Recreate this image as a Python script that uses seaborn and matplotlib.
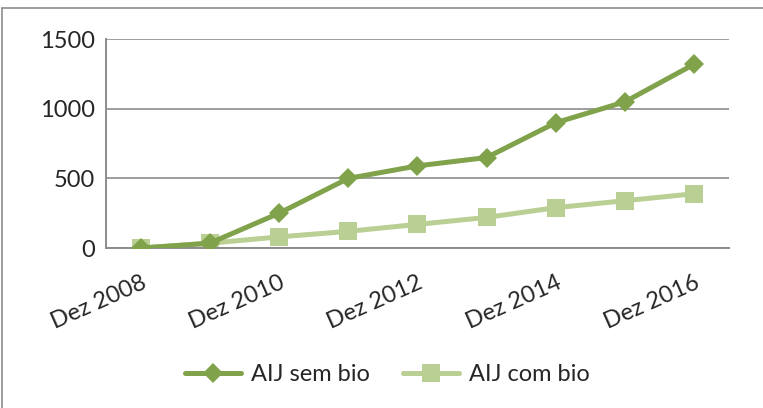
import matplotlib
matplotlib.use("Agg")
import matplotlib.pyplot as plt
import seaborn as sns
from matplotlib.lines import Line2D

# Values
periods = ["Dez 2008", "Dez 2009", "Dez 2010", "Dez 2011", "Dez 2012",
           "Dez 2013", "Dez 2014", "Dez 2015", "Dez 2016"]
sem_bio = [0, 35, 250, 500, 590, 650, 900, 1050, 1320]
com_bio = [0, 35, 80, 120, 170, 220, 290, 340, 390]
yticks = [0, 500, 1000, 1500]

dark = "#80A24A"
light = "#B9CF94"
grey = "#8C8C8C"
fs = 17

sns.set_style("white")
plt.rcParams["font.family"] = ["Lato", "DejaVu Sans"]

fig = plt.figure(figsize=(7.63, 4.08), dpi=100)
ax = fig.add_axes([0.139, 0.392, 0.816, 0.512])

sns.lineplot(x=periods, y=sem_bio, ax=ax, color=dark, linewidth=3.6,
             marker="D", markersize=10.5, markeredgewidth=0, label="AIJ sem bio")
sns.lineplot(x=periods, y=com_bio, ax=ax, color=light, linewidth=3.6,
             marker="s", markersize=13.5, markeredgewidth=0, label="AIJ com bio")

# sem bio on top, like the original
ax.lines[0].set_zorder(3)
ax.lines[1].set_zorder(2)

ax.set_ylim(0, 1500)
ax.set_yticks(yticks)
ax.set_xlim(-0.5, len(periods) - 0.5)
ax.yaxis.grid(True, color=grey, linewidth=1.2)
ax.set_axisbelow(True)
for s in ["top", "right"]:
    ax.spines[s].set_visible(False)
for s in ["left", "bottom"]:
    ax.spines[s].set_color(grey)
    ax.spines[s].set_linewidth(1.4)

# category ticks sit between categories, labels on every other one
ax.set_xticks(range(len(periods)))
ax.set_xticklabels([p if i % 2 == 0 else "" for i, p in enumerate(periods)],
                   rotation=24, ha="right", va="top", rotation_mode="anchor")
ax.set_xticks([i - 0.5 for i in range(len(periods) + 1)], minor=True)
ax.tick_params(axis="x", which="major", length=0, pad=17, labelsize=fs)
ax.tick_params(axis="x", which="minor", length=5, width=1.4, color=grey, direction="out")
ax.tick_params(axis="y", length=5, width=1.4, color=grey, pad=3, labelsize=fs)
ax.set_xlabel("")
ax.set_ylabel("")

ax.get_legend().remove()
handles, labels = ax.get_legend_handles_labels()
fig.legend(handles, labels, loc="center", bbox_to_anchor=(0.508, 0.081), ncol=2,
           frameon=False, fontsize=fs, handlelength=2.35, columnspacing=1.4,
           handletextpad=0.45)

# chart frame (only top and left edge visible in the crop)
fig.add_artist(Line2D([0.003, 0.003], [0, 0.98], transform=fig.transFigure,
                      color=grey, linewidth=1.2))
fig.add_artist(Line2D([0.003, 1], [0.98, 0.98], transform=fig.transFigure,
                      color=grey, linewidth=1.2))

fig.savefig("out.png", dpi=100)
